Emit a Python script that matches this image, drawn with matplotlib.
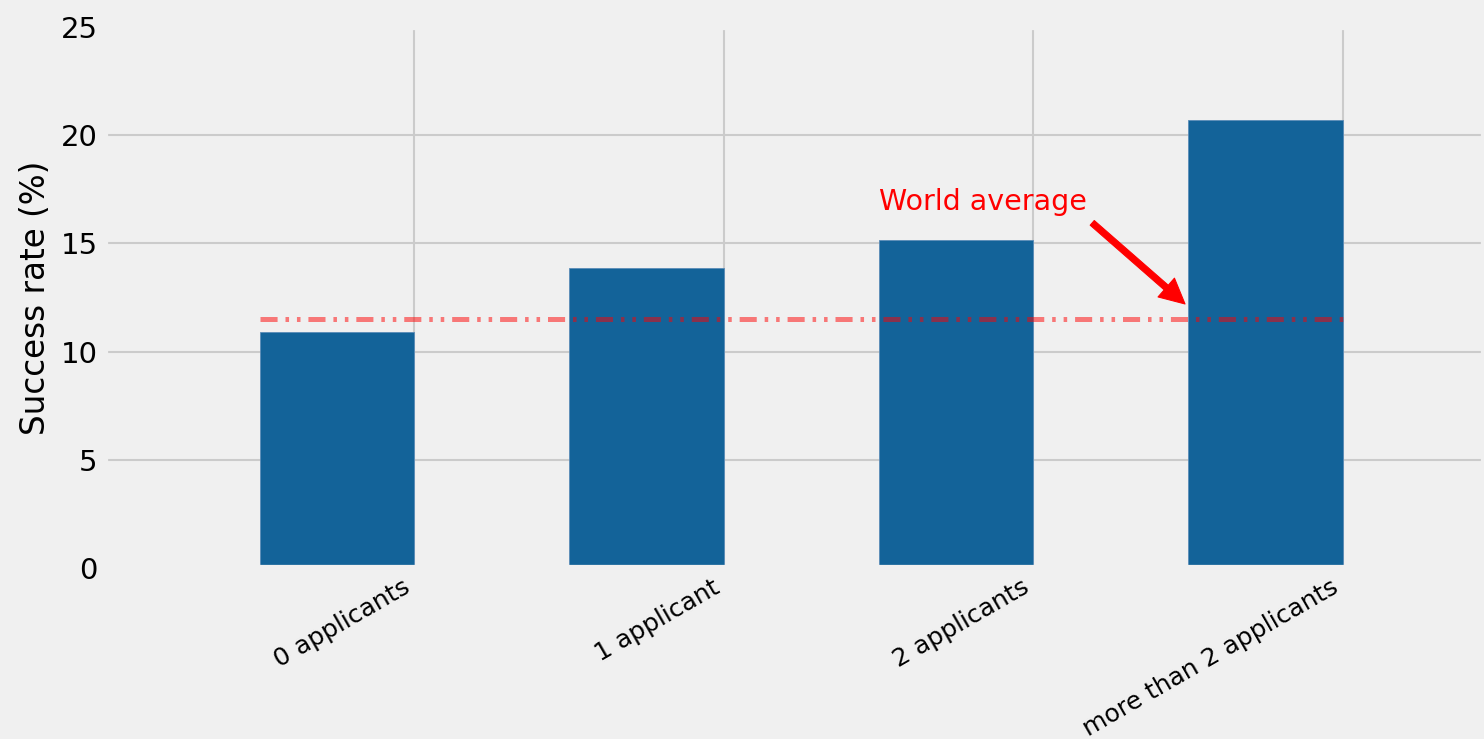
import matplotlib
matplotlib.use("Agg")
import matplotlib.pyplot as plt

plt.style.use("fivethirtyeight")
plt.rcParams["lines.scale_dashes"] = False

categories = ["0 applicants", "1 applicant", "2 applicants", "more than 2 applicants"]
success_rate = [10.9, 13.85, 15.15, 20.7]
world_average = 11.5
positions = [0, 1, 2, 3]

BAR_COLOR = "#136399"

fig = plt.figure(figsize=(1484 / 150, 739 / 150), dpi=150)
ax = fig.add_axes([105 / 1484, 171 / 739, 1379 / 1484, 541 / 739])

ax.bar(positions, success_rate, width=-0.5, align="edge", color=BAR_COLOR,
       edgecolor="#5a8cb8", linewidth=0.4)
ax.plot([positions[0] - 0.5, positions[-1]], [world_average] * 2,
        color="red", alpha=0.5, linewidth=2.4,
        linestyle=(0, (8.2, 3.8, 1.7, 3.8, 1.7, 3.8)))

# arrow pointing at the average line
ax.annotate("", xy=(2.49, 12.2), xytext=(2.19, 15.95),
            arrowprops=dict(color="red", width=3, headwidth=12, headlength=12,
                            shrink=0.0))
ax.text(1.5, 16.9, "World average", color="red", fontsize=13.7, va="center")

ax.set_xlim(-1, 3.456)
ax.set_ylim(0, 25)
ax.set_yticks([0, 5, 10, 15, 20, 25])
ax.set_xticks(positions)
ax.set_xticklabels(categories, rotation=30, ha="right", fontsize=12)
ax.tick_params(axis="y", labelsize=14)
ax.set_ylabel("Success rate (%)", fontsize=15.7)
ax.set_axisbelow(True)

fig.savefig("out.png", dpi=150, facecolor=fig.get_facecolor())
